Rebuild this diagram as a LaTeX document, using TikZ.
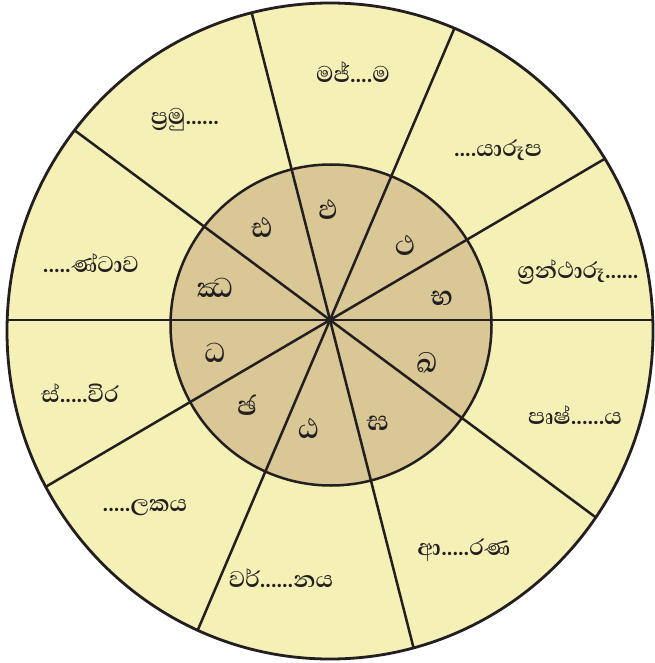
\documentclass[tikz,border=0pt]{standalone}
\usepackage{fontspec}
\usetikzlibrary{calc}
\newfontfamily\sinhalafont[Script=Sinhala]{Abhaya Libre}
\definecolor{pale}{HTML}{F5F0B5}
\definecolor{tan}{HTML}{D9C795}
\definecolor{ink}{HTML}{231F20}
\tikzset{word/.style={font=\sinhalafont\bfseries\fontsize{29}{31}\selectfont,text=ink},
  letter/.style={font=\sinhalafont\bfseries\fontsize{35}{37}\selectfont,text=ink}}

\begin{document}
\begin{tikzpicture}[x=1pt,y=-1pt,line width=2.5pt]
  \useasboundingbox (0,0) rectangle (654,663);
  \coordinate (o) at (330,320);
  \fill[pale] (330,331) ellipse [x radius=323, y radius=328];
  \begin{scope}
    \clip (330,331) ellipse [x radius=323, y radius=328];
    \fill[tan] (331,325) circle (160.5);
    \foreach \a in {0,30.4,66.9,104.3,143.4}
      {\draw[ink] ($(o)+(-\a:400)$)--($(o)+(180-\a:400)$);}
  \end{scope}
  \draw[ink] (331,325) circle (160.5);
  \draw[ink,line width=2.8pt] (330,331) ellipse [x radius=323, y radius=328];
  % words with a missing letter
  \foreach \x/\y/\t [count=\i] in {353/72/{මජ්....ම}, 498/150/{....යාරූප},
      578/272/{ග්^^^^200dරන්ථාරූ......}, 575/415/{පෘෂ්......ය}, 464/550/{ආ.....රණ},
      281/578/{වර්......නය}, 145/508/{.....ලකය}, 80/393/{ස්.....විර},
      91/263/{.....ණ්ටාව}, 185/120/{ප්^^^^200dරමු......}}
    {\node[word] (w\i) at (\x,\y) {\t};}
  % the letters
  \foreach \x/\y/\t [count=\i] in {215/288/ඣ, 262/227/ඪ, 328/210/ඵ, 405/245/ථ,
      442/298/භ, 427/363/ඛ, 378/423/ඝ, 308/428/ඨ, 247/405/ඡ, 215/353/ධ}
    {\node[letter] (l\i) at (\x,\y) {\t};}
\end{tikzpicture}
\end{document}
